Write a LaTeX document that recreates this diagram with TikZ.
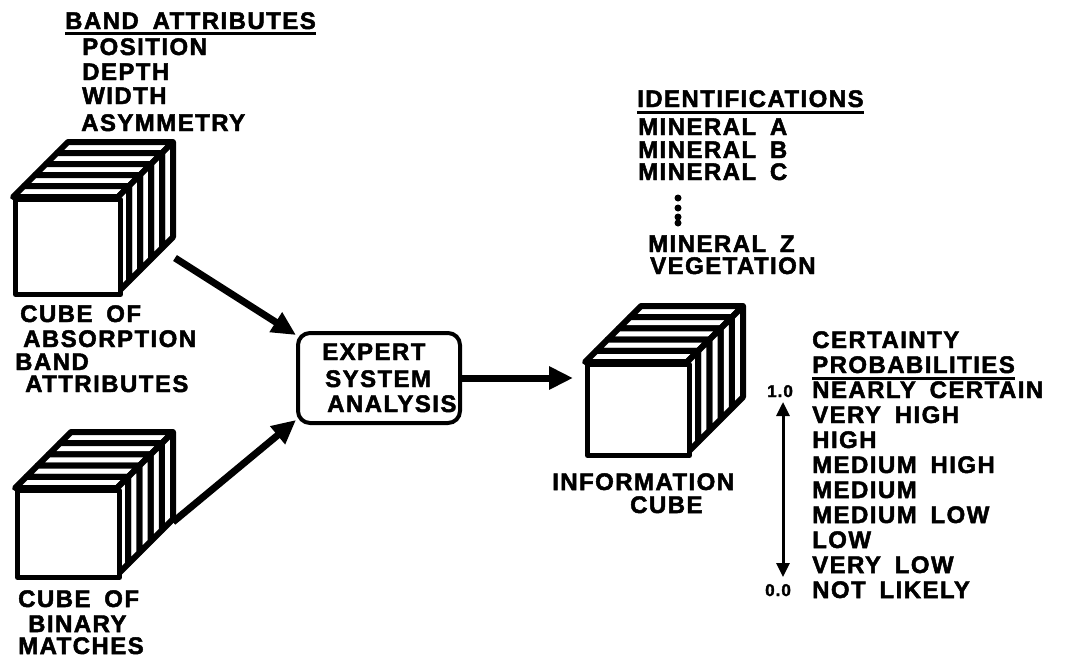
\documentclass[tikz,border=0pt]{standalone}
\usepackage{fontspec}
\usetikzlibrary{arrows.meta}
\newfontfamily\lab[LetterSpace=6,WordSpace=1.7,FakeBold=2]{Liberation Sans Bold}
\newcommand{\drawslabs}[6]{%
  \foreach \i in {#6,...,1}{%
    \pgfmathsetmacro\oa{(\i-1)*#5/#6}%
    \pgfmathsetmacro\ob{\i*#5/#6}%
    \draw[slab] (#1+\oa,#2-\oa) -- (#1+#3+\oa,#2-\oa) -- (#1+#3+\ob,#2-\ob) -- (#1+\ob,#2-\ob) -- cycle;
    \draw[slab] (#1+#3+\oa,#2-\oa) -- (#1+#3+\ob,#2-\ob) -- (#1+#3+\ob,#2+#4-\ob) -- (#1+#3+\oa,#2+#4-\oa) -- cycle;
  }}
\begin{document}
\begin{tikzpicture}[x=1pt,y=-1pt,
  lbl/.style={font=\lab\fontsize{24}{25}\selectfont, anchor=base west, inner sep=0pt, text height=17pt, text depth=0pt},
  small/.style={font=\lab\fontsize{17}{18}\selectfont, anchor=base west, inner sep=0pt},
  slab/.style={draw, fill=white, line width=6pt, line join=round},
  front/.style={draw, fill=white, line width=5pt, line join=round, anchor=north west, inner sep=0pt},
  bigarrow/.style={line width=7pt, -{Triangle[length=24pt,width=22pt]}},
  ulineS/.style={line width=3pt},
  esabox/.style={draw, line width=4pt, rounded corners=12pt, minimum width=162pt, minimum height=90pt, inner sep=0pt}
]
\useasboundingbox (0,0) rectangle (1065,667);

% ---- band attributes list
\node[lbl] (bat) at (65,29) {BAND ATTRIBUTES};
\draw[ulineS] ([yshift=-4pt]bat.base west) -- ([yshift=-4pt]bat.base east);
\node[lbl] (ba1) at (82,55) {POSITION};
\node[lbl] (ba2) at (82,80) {DEPTH};
\node[lbl] (ba3) at (82,104) {WIDTH};
\node[lbl] (ba4) at (81,131) {ASYMMETRY};

% ---- cube A
\drawslabs{13}{197}{105}{95}{55}{5}
\node[front, minimum width=105pt, minimum height=95pt] (cubeA) at (13,197) {};
\node[lbl] (ca1) at (20,322) {CUBE OF};
\node[lbl] (ca2) at (23,347) {ABSORPTION};
\node[lbl] (ca3) at (15,370) {BAND};
\node[lbl] (ca4) at (25,392) {ATTRIBUTES};
\coordinate (cubeAout) at (175,258);

% ---- cube B
\drawslabs{15}{488}{102}{87}{56}{5}
\node[front, minimum width=102pt, minimum height=87pt] (cubeB) at (15,488) {};
\node[lbl] (cb1) at (18,607) {CUBE OF};
\node[lbl] (cb2) at (28,632) {BINARY};
\node[lbl] (cb3) at (18,654) {MATCHES};
\coordinate (cubeBout) at (173,522);

% ---- expert system box
\node[esabox] (esa) at (379,378) {};
\node[lbl] (esa1) at (322,360) {EXPERT};
\node[lbl] (esa2) at (325,387) {SYSTEM};
\node[lbl] (esa3) at (327,412) {ANALYSIS};

% ---- information cube
\drawslabs{585}{362}{102}{91}{56}{5}
\node[front, minimum width=102pt, minimum height=91pt] (cubeC) at (585,362) {};
\node[lbl] (ic1) at (552,490) {INFORMATION};
\node[lbl] (ic2) at (630,513) {CUBE};
\coordinate (cubeCin) at (573,378);

% ---- arrows
\draw[bigarrow] (cubeAout) -- ([yshift=-4pt]esa.north west);
\draw[bigarrow] (cubeBout) -- ([yshift=5pt]esa.south west);
\draw[bigarrow] (esa.east) -- (cubeCin);

% ---- identifications
\node[lbl] (idt) at (637,107) {IDENTIFICATIONS};
\draw[ulineS] ([yshift=-5pt]idt.base west) -- ([yshift=-5pt]idt.base east);
\node[lbl] (id1) at (638,135) {MINERAL A};
\node[lbl] (id2) at (638,158) {MINERAL B};
\node[lbl] (id3) at (638,180) {MINERAL C};
\foreach \yy [count=\k] in {198,208,217,223}
  \fill (678,\yy) circle (3.5pt) coordinate (dot\k);
\node[lbl] (id4) at (648,252) {MINERAL Z};
\node[lbl] (id5) at (650,274) {VEGETATION};

% ---- certainty probabilities
\foreach \t [count=\k from 0] in {CERTAINTY,PROBABILITIES,NEARLY CERTAIN,VERY HIGH,HIGH,MEDIUM HIGH,MEDIUM,MEDIUM LOW,LOW,VERY LOW,NOT LIKELY}
  \node[lbl] (cp\k) at (812,348+25*\k) {\t};
\draw[ulineS] ([yshift=-5pt]cp1.base west) -- ([yshift=-5pt]cp1.base east);
\node[small] (one) at (767,397) {1.0};
\node[small] (zero) at (765,596) {0.0};
\coordinate (scaletop) at (783,402);
\coordinate (scalebot) at (783,577);
\draw[line width=3pt, {Triangle[length=14pt,width=13pt]}-{Triangle[length=14pt,width=13pt]}] (scaletop) -- (scalebot);
\end{tikzpicture}
\end{document}
